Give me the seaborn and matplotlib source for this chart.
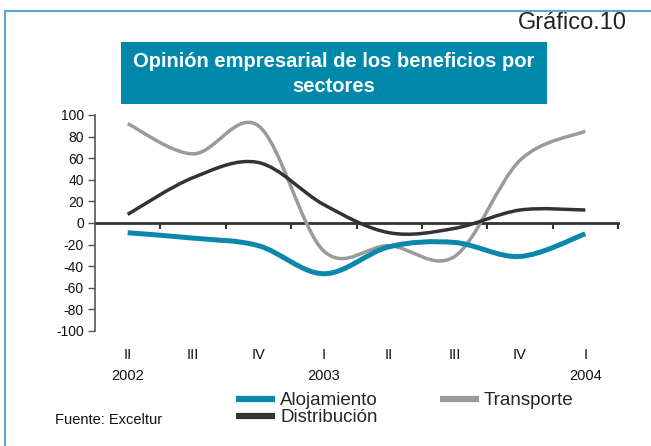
import numpy as np
import pandas as pd
import matplotlib
matplotlib.use("Agg")
import matplotlib.pyplot as plt
import matplotlib.colors as mcolors
from matplotlib.path import Path
from matplotlib.patches import PathPatch, Rectangle
from matplotlib.lines import Line2D
from matplotlib.transforms import blended_transform_factory
import seaborn as sns

# --- datos ---
periodos = ["2002-II", "2002-III", "2002-IV", "2003-I", "2003-II", "2003-III", "2003-IV", "2004-I"]
trimestres = ["II", "III", "IV", "I", "II", "III", "IV", "I"]
anios = ["2002", "", "", "2003", "", "", "", "2004"]
alojamiento = [-9, -14, -21, -47, -22, -18, -31, -10]
transporte = [92, 64, 90, -26, -21, -31, 58, 85]
distribucion = [8, 42, 56, 17, -9, -5, 12, 12]
y_ticks = [-100, -80, -60, -40, -20, 0, 20, 40, 60, 80, 100]

series = ["Alojamiento", "Transporte", "Distribución"]
colores = {"Alojamiento": "#0a87aa", "Transporte": "#9a9a9a", "Distribución": "#333333"}
grosores = {"Alojamiento": 3.6, "Transporte": 2.5, "Distribución": 2.5}

df = pd.DataFrame({
    "periodo": periodos * 3,
    "valor": alojamiento + transporte + distribucion,
    "serie": ["Alojamiento"] * 8 + ["Transporte"] * 8 + ["Distribución"] * 8,
})

sns.set_style("white")
plt.rcParams["font.family"] = ["Liberation Sans", "DejaVu Sans"]

W, H = 651, 446
fig = plt.figure(figsize=(W / 100, H / 100), dpi=100)
ax = fig.add_axes([95 / W, 1 - 331 / H, (618 - 95) / W, (331 - 115) / H])

sns.lineplot(data=df, x="periodo", y="valor", hue="serie", hue_order=series,
             palette=colores, sort=False, legend=False, ax=ax)

# curvas suavizadas (como en Excel) a partir de los puntos de cada línea
def curva_suave(xy):
    pts = np.vstack([xy[0], xy, xy[-1]])
    verts = [tuple(xy[0])]
    codes = [Path.MOVETO]
    for i in range(1, len(pts) - 2):
        p0, p1, p2, p3 = pts[i - 1], pts[i], pts[i + 1], pts[i + 2]
        c1 = p1 + (p2 - p0) / 6
        c2 = p2 - (p3 - p1) / 6
        verts += [tuple(c1), tuple(c2), tuple(p2)]
        codes += [Path.CURVE4] * 3
    return Path(verts, codes)

hex_a_serie = {mcolors.to_hex(c): s for s, c in colores.items()}
orden_z = {"Transporte": 3, "Distribución": 4, "Alojamiento": 5}
for line in ax.lines:
    s = hex_a_serie.get(mcolors.to_hex(line.get_color()))
    if s is None:
        continue
    xy = np.asarray(line.get_xydata(), dtype=float)
    line.set_visible(False)
    ax.add_patch(PathPatch(curva_suave(xy), fill=False, edgecolor=colores[s],
                           lw=grosores[s], capstyle="butt", zorder=orden_z[s]))

ax.set_xlim(-0.5, 7.5)
ax.set_ylim(-100, 100)
ax.set_xlabel("")
ax.set_ylabel("")

# eje y
ax.set_yticks(y_ticks)
ax.set_yticklabels([str(v) for v in y_ticks], fontsize=10, color="#111111")
ax.tick_params(axis="y", direction="out", length=5, width=1, color="#555555", pad=3, left=True)
ax.spines["left"].set_color("#555555")
ax.spines["left"].set_linewidth(1.2)
for sp in ["top", "right"]:
    ax.spines[sp].set_visible(False)

# eje x en el cero con marcas entre trimestres
ax.spines["bottom"].set_position(("data", 0))
ax.spines["bottom"].set_color("#333333")
ax.spines["bottom"].set_linewidth(2)
ax.spines["bottom"].set_zorder(2)
ax.set_xticks(range(len(periodos)))
ax.set_xticklabels([])
ax.tick_params(axis="x", which="major", length=0, bottom=True)
ax.set_xticks(np.arange(0.5, len(periodos), 1.0), minor=True)
ax.tick_params(axis="x", which="minor", direction="out", length=4, width=1.5,
               color="#333333", bottom=True)

trans = blended_transform_factory(ax.transData, fig.transFigure)
for i, (q, a) in enumerate(zip(trimestres, anios)):
    ax.text(i, 1 - 355 / H, q, transform=trans, ha="center", va="center",
            fontsize=10.5, color="#111111")
    if a:
        ax.text(i, 1 - 376 / H, a, transform=trans, ha="center", va="center",
                fontsize=10.5, color="#111111")

# marco azul claro
marco = "#5ba6d6"
fig.add_artist(Line2D([5 / W, 5 / W], [0, 1 - 11 / H], transform=fig.transFigure,
                      color=marco, lw=1.5))
fig.add_artist(Line2D([5 / W, 1], [1 - 11 / H, 1 - 11 / H], transform=fig.transFigure,
                      color=marco, lw=1.5))

# título en caja
fig.add_artist(Rectangle((121 / W, 1 - 104 / H), (547 - 121) / W, (104 - 42) / H,
                         transform=fig.transFigure, facecolor="#0088ab", edgecolor="none"))
fig.text(334 / W, 1 - 74 / H, "Opinión empresarial de los beneficios por\nsectores",
         ha="center", va="center", color="white", fontsize=14.5, fontweight="bold",
         linespacing=1.35)

fig.text(627 / W, 1 - 23 / H, "Gráfico.10", ha="right", va="center",
         fontsize=17, color="#222222")
fig.text(55 / W, 1 - 420 / H, "Fuente: Exceltur", ha="left", va="center",
         fontsize=10.5, color="#111111")

# leyenda
handles = [Line2D([], [], color=colores[s], lw=4.5, solid_capstyle="butt")
           for s in ["Alojamiento", "Distribución", "Transporte"]]
fig.legend(handles, ["Alojamiento", "Distribución", "Transporte"], ncol=2,
           loc="upper left", bbox_to_anchor=(236 / W, 1 - 392 / H), frameon=False,
           fontsize=13.5, handlelength=2.1, handletextpad=0.25, labelspacing=0.0,
           columnspacing=3.3, borderpad=0, borderaxespad=0)

fig.savefig("out.png", dpi=100)
